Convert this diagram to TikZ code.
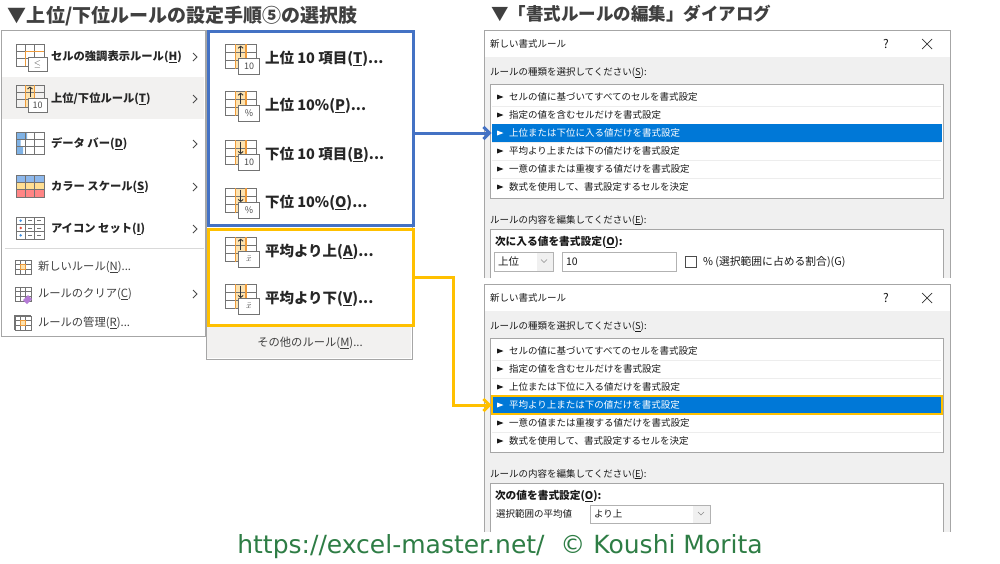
\documentclass[tikz,border=0pt]{standalone}
\usepackage{fontspec}
\setmainfont{Noto Sans CJK JP}
\newfontfamily\footfont{DejaVu Sans}
\usetikzlibrary{arrows.meta,positioning}

\definecolor{frameBlue}{HTML}{4472C4}
\definecolor{frameYellow}{HTML}{FFC000}
\definecolor{selBlue}{HTML}{0078D7}
\definecolor{dlgGray}{HTML}{F0F0F0}
\definecolor{menuGray}{HTML}{F2F1F0}
\definecolor{borderGray}{HTML}{A6A6A6}
\definecolor{iconLine}{HTML}{ED9A3A}
\definecolor{iconFill}{HTML}{FDE3B0}
\definecolor{barBlue}{HTML}{7FB2E5}
\definecolor{scaleBlue}{HTML}{8DB8EC}
\definecolor{scaleYellow}{HTML}{FFDF93}
\definecolor{scaleRed}{HTML}{FF8585}
\definecolor{dotBlue}{HTML}{3F8FE0}
\definecolor{dotRed}{HTML}{E84C3D}
\definecolor{eraser}{HTML}{B57BD6}
\definecolor{footGreen}{HTML}{2E7D45}

\newcommand\mnem[1]{\underline{#1}}
\newcommand\cellgrid{\draw[gridline] (0,0) rectangle (28,22) (0,7.33) -- (28,7.33) (0,14.67) -- (28,14.67) (9.33,0) -- (9.33,22) (18.67,0) -- (18.67,22);}
\newcommand\minigrid{\draw[gridline] (0,0) rectangle (16,14) (0,4.67) -- (16,4.67) (0,9.33) -- (16,9.33) (5.33,0) -- (5.33,14) (10.67,0) -- (10.67,14);}
\newcommand\tagbox[1]{\draw[gridline, fill=white] (12,13) rectangle (31,27); \node[tagtext] (-tag) at (21.5,20) {#1};}

\tikzset{
  gridline/.style={draw=black!55, line width=0.8pt},
  tagtext/.style={font=\fontsize{9}{10}\selectfont, text=black!70},
  tipline/.style={black!80, line width=0.9pt, -{Straight Barb[length=2pt,width=5pt]}},
  titletext/.style={anchor=west, font=\bfseries\fontsize{19}{22}\selectfont, text=black!75},
  menuitem/.style={anchor=west, font=\bfseries\fontsize{11.3}{13}\selectfont, text=black!85},
  menuplain/.style={anchor=west, font=\fontsize{11.3}{13}\selectfont, text=black!75},
  subitem/.style={anchor=west, font=\bfseries\fontsize{14.5}{16}\selectfont, text=black!85},
  dlgtext/.style={anchor=west, font=\fontsize{9.5}{11}\selectfont, text=black!90},
  dlgbold/.style={anchor=west, font=\bfseries\fontsize{10.7}{12}\selectfont, text=black!90},
  chevron/.style={draw=black!70, line width=0.8pt},
  listbox/.style={draw=borderGray, fill=white, line width=0.8pt, minimum width=453pt, minimum height=114pt, anchor=north west},
  selrow/.style={fill=selBlue, minimum width=450pt, minimum height=18pt},
  inputbox/.style={draw=black!30, fill=white, line width=0.6pt, anchor=north west},
  flowarrow/.style={line width=3pt, -{Straight Barb[length=6pt,width=12pt]}},
  pics/hiliteicon/.style={code={\cellgrid \draw[iconLine, line width=1.3pt] (9.33,22) -- (9.33,7.33) -- (28,7.33); \tagbox{$\le$}}},
  pics/rankicon/.style 2 args={code={\fill[iconFill] (9.33,0) rectangle (18.67,22); \cellgrid
    \draw[iconLine, line width=1.3pt] (9.33,0) -- (9.33,22) (18.67,0) -- (18.67,22); \draw[tipline] #1; \tagbox{#2}}},
  pics/baricon/.style={code={\fill[barBlue] (0,0) rectangle (11,7.33) (0,7.33) rectangle (4.5,14.67) (0,14.67) rectangle (7,22); \cellgrid}},
  pics/scaleicon/.style={code={\fill[scaleBlue] (0,0) rectangle (28,7.33); \fill[scaleYellow] (0,7.33) rectangle (28,14.67);
    \fill[scaleRed] (0,14.67) rectangle (28,22); \cellgrid}},
  pics/seticon/.style={code={\cellgrid \fill[dotBlue] (4.67,3.67) circle (1.4pt) (4.67,18.33) circle (1.4pt); \fill[dotRed] (4.67,11) circle (1.4pt);
    \draw[black!55, line width=0.8pt] (12,3.67) -- (16,3.67) (21,3.67) -- (25,3.67) (12,11) -- (16,11) (21,11) -- (25,11) (12,18.33) -- (16,18.33) (21,18.33) -- (25,18.33);}},
  pics/newicon/.style={code={\fill[iconFill] (5.33,4.67) rectangle (10.67,9.33); \minigrid \draw[iconLine, line width=1pt] (5.33,4.67) rectangle (10.67,9.33);}},
  pics/clearicon/.style={code={\minigrid \fill[eraser] (8,13) -- (13,8) -- (17,12) -- (12,17) -- cycle;}},
  pics/manageicon/.style={code={\draw[gridline, line width=1.2pt] (0,14) -- (0,0) -- (16,0); \fill[iconFill] (5.33,4.67) rectangle (10.67,9.33); \minigrid
    \draw[iconLine, line width=1pt] (5.33,4.67) rectangle (10.67,9.33);}},
}

\newcommand\ruledialog[2]{%
  \fill[dlgGray] (484,30) rectangle (950,278);
  \fill[white] (484,30) rectangle (950,57);
  \draw[borderGray, line width=0.8pt] (484,278) -- (484,30) -- (950,30) -- (950,278);
  \node[dlgtext] (title#1) at (490,44) {新しい書式ルール};
  \node[dlgtext, anchor=center, font=\fontsize{12}{13}\selectfont] (help#1) at (886,44) {?};
  \draw[black!80, line width=0.7pt] (922,39) -- (932,49) (922,49) -- (932,39);
  \node[dlgtext] (typeLabel#1) at (490,73) {ルールの種類を選択してください(\mnem{S}):};
  \node[listbox] (list#1) at (490,84) {};
  \foreach \i in {1,...,5} \draw[black!7] (492,88+18*\i) -- (941,88+18*\i);
  \node[selrow] (sel#1) at (716.5,79+18*#2) {};
  \foreach \txt [count=\i] in {{セルの値に基づいてすべてのセルを書式設定},{指定の値を含むセルだけを書式設定},
      {上位または下位に入る値だけを書式設定},{平均より上または下の値だけを書式設定},
      {一意の値または重複する値だけを書式設定},{数式を使用して、書式設定するセルを決定}} {
    \ifnum\i=#2 \def\rowcol{white}\else\def\rowcol{black!90}\fi
    \fill[\rowcol] (497,76.5+18*\i) -- (503.5,79+18*\i) -- (497,81.5+18*\i) -- cycle;
    \node[dlgtext, text=\rowcol] (row#1\i) at (509,79+18*\i) {\txt};
  }
  \node[dlgtext] (editLabel#1) at (490,220) {ルールの内容を編集してください(\mnem{E}):};
  \fill[white] (490,229) rectangle (943,278);
  \draw[borderGray, line width=0.8pt] (490,278) -- (490,229) -- (943,229) -- (943,278);
}

\begin{document}
\begin{tikzpicture}[x=1pt, y=-1pt, every node/.style={inner sep=0pt, outer sep=0pt}]
  \useasboundingbox (0,0) rectangle (1000,563);
  \fill[white] (0,0) rectangle (1000,563);

  \node[titletext] (titleLeft) at (8,16) {▼上位/下位ルールの設定手順⑤の選択肢};
  \node[titletext, font=\bfseries\fontsize{17.5}{21}\selectfont] (titleRight) at (491,14) {▼「書式ルールの編集」ダイアログ};

  \node[draw=borderGray, fill=white, line width=0.8pt, minimum width=204pt, minimum height=306pt, anchor=north west] (menuMain) at (1,30) {};
  \node[fill=menuGray, minimum width=202pt, minimum height=42pt, anchor=north west] (menuHover) at (2,77) {};
  \draw[black!15] (5,248) -- (204,248);
  \pic (iconHigh) at (16,44) {hiliteicon};
  \pic (iconRank) at (16,85) {rankicon={(14,12) -- (14,1.5)}{10}};
  \pic (iconBar) at (16,132) {baricon};
  \pic (iconScale) at (16,175) {scaleicon};
  \pic (iconSet) at (16,217) {seticon};
  \pic (iconNew) at (15,260) {newicon};
  \pic (iconClear) at (15,287) {clearicon};
  \pic (iconManage) at (15,316) {manageicon};
  \node[menuitem] (itemHigh) at (51,57) {セルの強調表示ルール(\mnem{H})};
  \node[menuitem] (itemRank) at (51,99) {上位/下位ルール(\mnem{T})};
  \node[menuitem] (itemBar) at (51,144) {データ バー(\mnem{D})};
  \node[menuitem] (itemScale) at (51,187) {カラー スケール(\mnem{S})};
  \node[menuitem] (itemSet) at (51,229) {アイコン セット(\mnem{I})};
  \node[menuplain] (itemNew) at (38,267) {新しいルール(\mnem{N})...};
  \node[menuplain] (itemClear) at (38,294) {ルールのクリア(\mnem{C})};
  \node[menuplain] (itemManage) at (38,323) {ルールの管理(\mnem{R})...};
  \foreach \y in {57,99,144,187,229,294} \draw[chevron] (193,\y-4) -- (197,\y) -- (193,\y+4);

  \node[draw=borderGray, fill=white, line width=0.8pt, minimum width=206pt, minimum height=329pt, anchor=north west] (menuSub) at (206,30) {};
  \node[fill=menuGray, minimum width=204pt, minimum height=32pt, anchor=north west] (moreBar) at (207,326) {};
  \node[menuplain, anchor=center] (subMore) at (310,343) {その他のルール(\mnem{M})...};
  \node[draw=frameBlue, line width=3pt, minimum width=205pt, minimum height=194pt, anchor=north west] (blueBox) at (208,31) {};
  \node[draw=frameYellow, line width=3pt, minimum width=205pt, minimum height=96pt, anchor=north west] (yellowBox) at (208,229) {};
  \pic[scale=1.12] (subIconT) at (225,44) {rankicon={(14,12) -- (14,1.5)}{10}};
  \pic[scale=1.12] (subIconP) at (225,91) {rankicon={(14,12) -- (14,1.5)}{\%}};
  \pic[scale=1.12] (subIconB) at (225,140) {rankicon={(14,1.5) -- (14,12.5)}{10}};
  \pic[scale=1.12] (subIconO) at (225,188) {rankicon={(14,1.5) -- (14,12.5)}{\%}};
  \pic[scale=1.12] (subIconA) at (225,237) {rankicon={(14,12) -- (14,1.5)}{$\bar{x}$}};
  \pic[scale=1.12] (subIconV) at (225,284) {rankicon={(14,1.5) -- (14,12.5)}{$\bar{x}$}};
  \node[subitem] (subTopTen) at (265,59) {上位 10 項目(\mnem{T})...};
  \node[subitem] (subTopPct) at (265,106) {上位 10\%(\mnem{P})...};
  \node[subitem] (subBotTen) at (265,155) {下位 10 項目(\mnem{B})...};
  \node[subitem] (subBotPct) at (265,203) {下位 10\%(\mnem{O})...};
  \node[subitem] (subAbove) at (265,252) {平均より上(\mnem{A})...};
  \node[subitem] (subBelow) at (265,299) {平均より下(\mnem{V})...};

  \ruledialog{A}{3}
  \node[dlgbold] (fmtLabelA) at (495,242) {次に入る値を書式設定(\mnem{O}):};
  \node[inputbox, minimum width=59pt, minimum height=19pt] (comboRank) at (494,252) {};
  \fill[black!6] (536.5,252.5) rectangle (552.5,270.5);
  \draw[black!45] (541,259.5) -- (544,262.5) -- (547,259.5);
  \node[dlgtext, font=\fontsize{10.5}{12}\selectfont] (comboRankText) at (498,261.5) {上位};
  \node[inputbox, minimum width=114pt, minimum height=19pt] (rankCount) at (562,252) {};
  \node[dlgtext, font=\fontsize{10.5}{12}\selectfont] (rankCountText) at (566,261.5) {10};
  \node[draw=black!70, fill=white, line width=0.7pt, minimum size=11pt, anchor=north west] (pctBox) at (685,256) {};
  \node[dlgtext, font=\fontsize{10.8}{12}\selectfont] (pctLabel) at (703,261.5) {\% (選択範囲に占める割合)(G)};

  \begin{scope}[shift={(0,254)}]
    \ruledialog{B}{4}
    \draw[frameYellow, line width=2pt] (selB.north west) rectangle (selB.south east);
    \node[dlgbold] (fmtLabelB) at (495,242) {次の値を書式設定(\mnem{O}):};
    \node[dlgtext] (avgLabel) at (496,260) {選択範囲の平均値};
    \node[inputbox, minimum width=120pt, minimum height=18pt] (comboAvg) at (590,251) {};
    \fill[black!6] (693,251.5) rectangle (709.5,268.5);
    \draw[black!45] (698,258) -- (701,261) -- (704,258);
    \node[dlgtext] (comboAvgText) at (594,260) {より上};
  \end{scope}

  \draw[flowarrow, frameBlue] (blueBox.east |- selA.west) -- (selA.west);
  \draw[flowarrow, frameYellow] (yellowBox.east) -- ++(40,0) |- (selB.west);

  \node[font=\footfont\fontsize{25}{29}\selectfont, text=footGreen] (footer) at (500,547) {https://excel-master.net/\ \ © Koushi Morita};
\end{tikzpicture}
\end{document}
